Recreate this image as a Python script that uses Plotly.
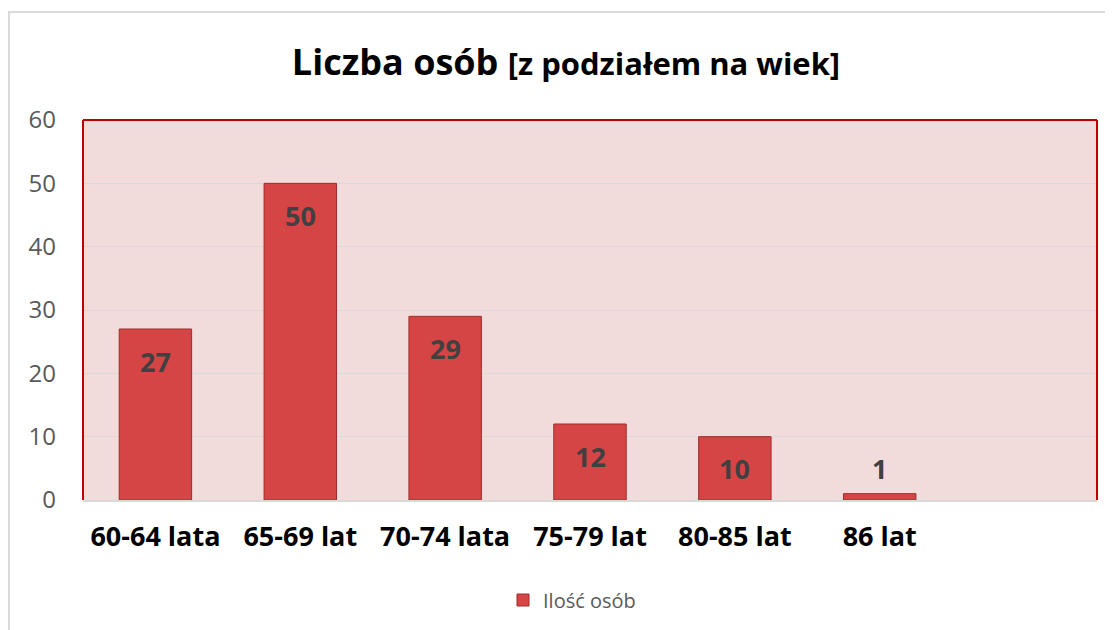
import plotly.graph_objects as go

categories = ["60-64 lata", "65-69 lat", "70-74 lata", "75-79 lat", "80-85 lat", "86 lat"]
values = [27, 50, 29, 12, 10, 1]
series_name = "Ilość osób"

FONT = "Open Sans"
BAR_COLOR = "#D64545"

# page has an 8px body margin, so the figure is sized/placed to compensate
W, H = 1105, 622

fig = go.Figure()

fig.add_trace(go.Bar(
    x=categories,
    y=values,
    name=series_name,
    width=0.5,
    marker=dict(color=BAR_COLOR, line=dict(color="#9E2C2C", width=1)),
    hoverinfo="x+y",
))

# value labels: inside near top, outside for tiny bars
for cat, val in zip(categories, values):
    inside = val > 5
    fig.add_annotation(
        x=cat, y=val,
        text=f"<b>{val}</b>",
        showarrow=False,
        yshift=-32 if inside else 25,
        font=dict(family=FONT, size=27, color="#404040"),
    )

# red frame on top/left/right of plot area
for x0, y0, x1, y1 in [(0, 0, 0, 1), (0, 1, 1, 1), (1, 0, 1, 1)]:
    fig.add_shape(type="line", xref="paper", yref="paper",
                  x0=x0, y0=y0, x1=x1, y1=y1,
                  line=dict(color="#C00000", width=2))

# outer chart border
fig.add_shape(type="rect", xref="paper", yref="paper",
              x0=-0.073, x1=1.1, y0=-0.5, y1=1.284,
              line=dict(color="#D9D9D9", width=2), layer="below")

fig.update_layout(
    width=W, height=H,
    margin=dict(l=75, r=16, t=112, b=130),
    paper_bgcolor="white",
    plot_bgcolor="#F2DCDB",
    title=dict(
        text="<b>Liczba osób</b> <b><span style='font-size:31px'>[z podziałem na wiek]</span></b>",
        x=558 / W, xanchor="center",
        y=1 - 54 / H, yanchor="middle",
        font=dict(family=FONT, size=36, color="black"),
    ),
    xaxis=dict(
        type="category",
        range=[-0.5, 6.5],
        tickfont=dict(family=FONT, size=27, color="black", weight="bold"),
        ticks="", showgrid=False,
        showline=True, linecolor="#D9D9D9", linewidth=2,
        ticklabelstandoff=12,
    ),
    yaxis=dict(
        range=[0, 60], dtick=10,
        tickfont=dict(family=FONT, size=24, color="#595959"),
        gridcolor="#D9D9D9", gridwidth=1,
        zeroline=False, showline=False,
        ticklabelstandoff=26,
    ),
    showlegend=True,
    legend=dict(
        orientation="h",
        xref="container", yref="container",
        x=564 / W, xanchor="center",
        y=1 - 592 / H, yanchor="middle",
        itemwidth=30,
        font=dict(family=FONT, size=20, color="#595959"),
    ),
)

fig.write_html("out.html")
